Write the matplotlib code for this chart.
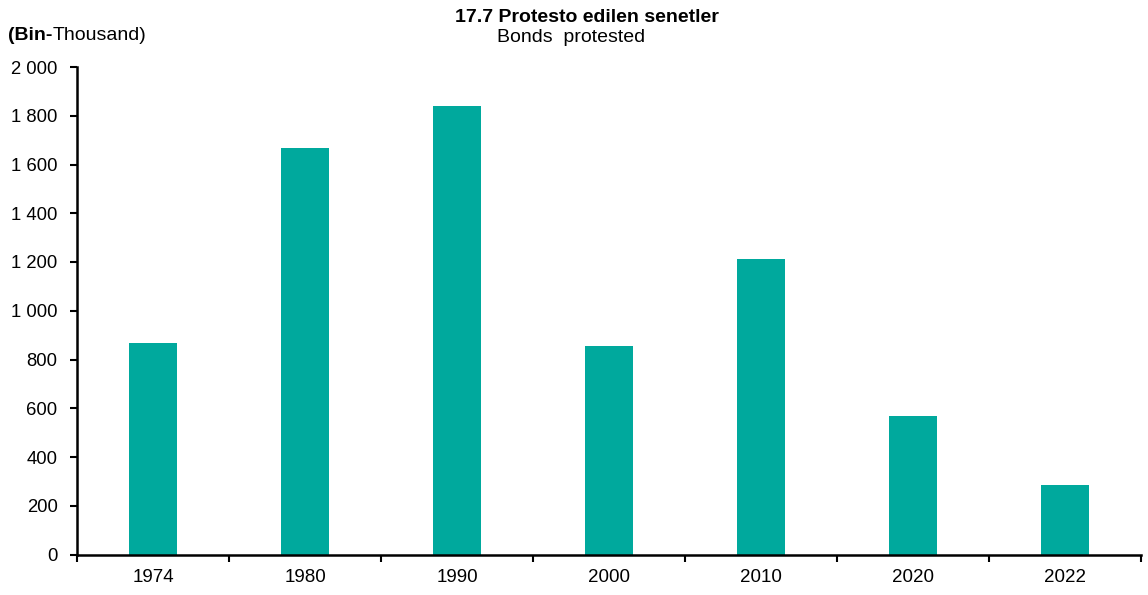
import matplotlib
matplotlib.use("Agg")
import matplotlib.pyplot as plt

plt.rcParams['font.family'] = ['Liberation Sans', 'DejaVu Sans']

years = ["1974", "1980", "1990", "2000", "2010", "2020", "2022"]
values = [866, 1666, 1839, 855, 1212, 568, 286]
yticks = [0, 200, 400, 600, 800, 1000, 1200, 1400, 1600, 1800, 2000]
ytick_labels = ["0", "200", "400", "600", "800", "1 000", "1 200", "1 400", "1 600", "1 800", "2 000"]

fig = plt.figure(figsize=(11.48, 5.95), dpi=100)
ax = fig.add_axes([77/1148, 40.5/595, 1064/1148, 487.5/595])

x = list(range(len(years)))
ax.bar(x, values, width=0.315, color="#00A99D")

ax.set_xlim(-0.5, len(years) - 0.5)
ax.set_ylim(0, 2000)
ax.set_yticks(yticks)
ax.set_yticklabels(ytick_labels, fontsize=13.3)
ax.set_xticks(x)
ax.set_xticklabels(years, fontsize=13.5)
ax.tick_params(axis='x', length=0, pad=10.5)
ax.set_xticks([i + 0.5 for i in range(-1, len(years))], minor=True)
ax.tick_params(axis='x', which='minor', length=5, width=1.5, direction='out')
ax.tick_params(axis='y', length=5, width=1.5, direction='out', pad=9)

for s in ['top', 'right']:
    ax.spines[s].set_visible(False)
for s in ['left', 'bottom']:
    ax.spines[s].set_linewidth(1.8)

fig.text(587/1148, 1 - 17/595, "17.7 Protesto edilen senetler", ha='center', va='center',
         fontsize=14, fontweight='bold')
fig.text(571/1148, 1 - 37/595, "Bonds  protested", ha='center', va='center', fontsize=14)
t1 = fig.text(8/1148, 1 - 36/595, "(Bin-", ha='left', va='center', fontsize=14, fontweight='bold')
fig.canvas.draw()
bb = t1.get_window_extent()
fig.text(bb.x1 / 1148, 1 - 36/595, "Thousand)", ha='left', va='center', fontsize=14)

fig.savefig("out.png", dpi=100)
